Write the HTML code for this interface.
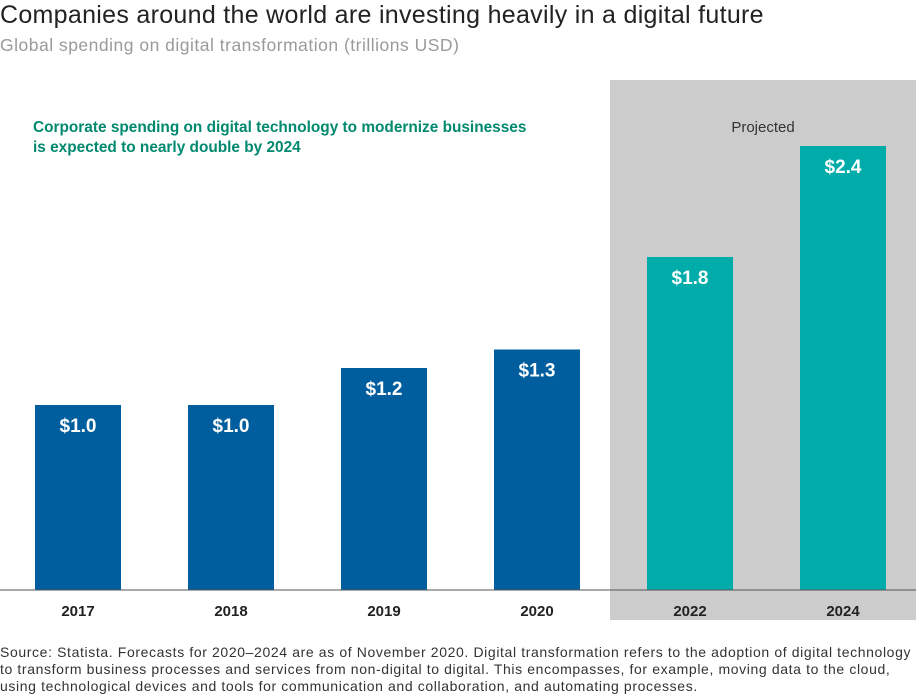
<!DOCTYPE html>
<html><head><meta charset="utf-8"><style>
body{margin:0;width:916px;height:700px;background:#fff;font-family:"Liberation Sans",sans-serif;overflow:hidden;position:relative}
.t{position:absolute;left:0;top:1px;font-size:25px;color:#222;white-space:nowrap;letter-spacing:0.3px}
.s{position:absolute;left:0;top:35px;font-size:17.5px;color:#9a9a9a;white-space:nowrap;letter-spacing:0.5px}
.f{position:absolute;left:0;top:644px;font-size:14px;line-height:17px;color:#333;width:916px;white-space:nowrap;letter-spacing:0.62px}
</style></head><body>
<div class="t">Companies around the world are investing heavily in a digital future</div>
<div class="s">Global spending on digital transformation (trillions USD)</div>
<svg id="c" width="916" height="640" style="position:absolute;left:0;top:0"></svg>
<div class="f">Source: Statista. Forecasts for 2020–2024 are as of November 2020. Digital transformation refers to the adoption of digital technology<br>to transform business processes and services from non-digital to digital. This encompasses, for example, moving data to the cloud,<br>using technological devices and tools for communication and collaboration, and automating processes.</div>
<script>
const categories=["2017","2018","2019","2020","2022","2024"];
const values=[1.0,1.0,1.2,1.3,1.8,2.4];
const labels=["$1.0","$1.0","$1.2","$1.3","$1.8","$2.4"];
const projected=[false,false,false,false,true,true];
const NS="http://www.w3.org/2000/svg";
const svg=document.getElementById('c');
const base=590,scale=185,x0=35,step=153,bw=86;
const y=v=>base-v*scale;
const x=i=>x0+i*step;
function mk(t,a){const e=document.createElementNS(NS,t);for(const k in a)e.setAttribute(k,a[k]);svg.appendChild(e);return e;}
const pr=mk('rect',{x:610,y:80,width:306,height:540,fill:'#cccccc'});


const pt=mk('text',{x:763,y:132,'text-anchor':'middle','font-size':15,fill:'#333'});pt.textContent='Projected';


const a1=mk('text',{x:33,y:132,'font-size':15.4,'font-weight':'bold',fill:'#00896f'});a1.textContent='Corporate spending on digital technology to modernize businesses';


const a2=mk('text',{x:33,y:152,'font-size':15.4,'font-weight':'bold',fill:'#00896f'});a2.textContent='is expected to nearly double by 2024';


categories.forEach((c,i)=>{
 const r=mk('rect',{x:x(i),y:y(values[i]),width:bw,height:values[i]*scale,fill:projected[i]?'#00aca9':'#005d9e'});
 
 
 const v=mk('text',{x:x(i)+bw/2,y:y(values[i])+27,'text-anchor':'middle','font-size':19,'font-weight':'bold',fill:'#fff'});v.textContent=labels[i];
 
 
 const l=mk('text',{x:x(i)+bw/2,y:616,'text-anchor':'middle','font-size':15,'font-weight':'bold',fill:'#222'});l.textContent=c;
 
 
});
const ax=mk('line',{x1:0,x2:916,y1:base,y2:base,stroke:'#555','stroke-width':1});


</script>
</body></html>
